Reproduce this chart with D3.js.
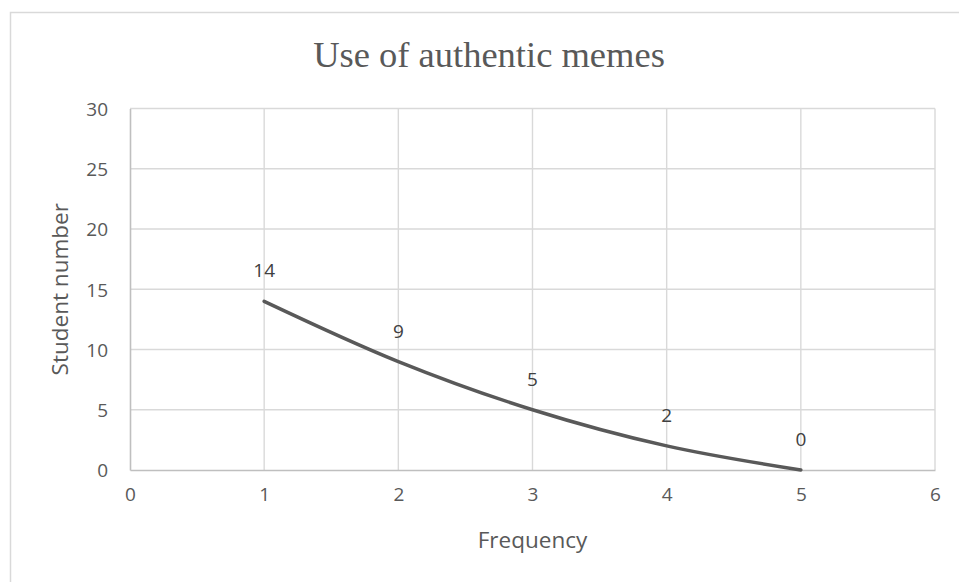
<!DOCTYPE html>
<html>
<head>
<meta charset="utf-8">
<script src="https://cdn.jsdelivr.net/npm/d3@7"></script>
<style>
  html, body { margin: 0; padding: 0; background: #fff; }
  svg { display: block; }
</style>
</head>
<body>
<svg id="chart" width="959" height="582"></svg>
<script>
// Frequency of authentic meme use vs. number of students
const frequency = [1, 2, 3, 4, 5];
const students = [14, 9, 5, 2, 0];
const xTicks = [0, 1, 2, 3, 4, 5, 6];
const yTicks = [0, 5, 10, 15, 20, 25, 30];
const chartTitle = "Use of authentic memes";
const xTitle = "Frequency";
const yTitle = "Student number";

const svg = d3.select("#chart");
const W = 959, H = 582;
const plot = { left: 130, right: 935, top: 108.5, bottom: 470 };

const sansFont = "'Open Sans', 'Noto Sans', sans-serif";
const textColor = "#595959";
const gridColor = "#d9d9d9";

// chart frame
svg.append("rect")
  .attr("x", 10.5).attr("y", 12.5)
  .attr("width", W + 20).attr("height", H + 20)
  .attr("fill", "#fff")
  .attr("stroke", gridColor).attr("stroke-width", 1.5);

const x = d3.scaleLinear().domain([0, 6]).range([plot.left, plot.right]);
const y = d3.scaleLinear().domain([0, 30]).range([plot.bottom, plot.top]);

// gridlines
const grid = svg.append("g");
grid.selectAll("line.h").data(yTicks.filter(d => d > 0)).join("line")
  .attr("x1", plot.left).attr("x2", plot.right)
  .attr("y1", d => y(d)).attr("y2", d => y(d))
  .attr("stroke", gridColor).attr("stroke-width", 1.4);
grid.selectAll("line.v").data(xTicks.filter(d => d > 0)).join("line")
  .attr("x1", d => x(d)).attr("x2", d => x(d))
  .attr("y1", plot.top).attr("y2", plot.bottom)
  .attr("stroke", gridColor).attr("stroke-width", 1.4);

// axes
const xAxis = svg.append("g")
  .attr("transform", `translate(0,${plot.bottom})`)
  .call(d3.axisBottom(x).tickValues(xTicks).tickSize(0).tickPadding(18).tickFormat(d3.format("d")));
const yAxis = svg.append("g")
  .attr("transform", `translate(${plot.left},0)`)
  .call(d3.axisLeft(y).tickValues(yTicks).tickSize(0).tickPadding(22).tickFormat(d3.format("d")));

[xAxis, yAxis].forEach(g => {
  g.select(".domain").attr("stroke", "#bfbfbf").attr("stroke-width", 1.6);
  g.selectAll("text")
    .attr("fill", textColor)
    .style("font-family", sansFont)
    .style("font-size", "19px");
});
yAxis.selectAll("text").attr("dy", "0.36em");

// smoothed line
const line = d3.line()
  .x((d, i) => x(frequency[i]))
  .y(d => y(d))
  .curve(d3.curveCatmullRom.alpha(0.5));

svg.append("path")
  .datum(students)
  .attr("d", line)
  .attr("fill", "none")
  .attr("stroke", "#595959")
  .attr("stroke-width", 3.5)
  .attr("stroke-linecap", "round");

// data labels
svg.append("g").selectAll("text").data(students).join("text")
  .attr("x", (d, i) => x(frequency[i]))
  .attr("y", d => y(d) - 24)
  .attr("text-anchor", "middle")
  .attr("fill", "#404040")
  .style("font-family", sansFont)
  .style("font-size", "19px")
  .text(d => d);

// titles
svg.append("text")
  .attr("x", 489).attr("y", 66.5)
  .attr("text-anchor", "middle")
  .attr("fill", textColor)
  .style("font-family", "'Liberation Serif', 'Times New Roman', serif")
  .style("font-size", "36.5px")
  .text(chartTitle);

svg.append("text")
  .attr("x", (plot.left + plot.right) / 2).attr("y", 548)
  .attr("text-anchor", "middle")
  .attr("fill", textColor)
  .style("font-family", sansFont)
  .style("font-size", "22.5px")
  .text(xTitle);

svg.append("text")
  .attr("transform", `translate(68,${(plot.top + plot.bottom) / 2}) rotate(-90)`)
  .attr("text-anchor", "middle")
  .attr("fill", textColor)
  .style("font-family", sansFont)
  .style("font-size", "22.5px")
  .text(yTitle);
</script>
</body>
</html>
